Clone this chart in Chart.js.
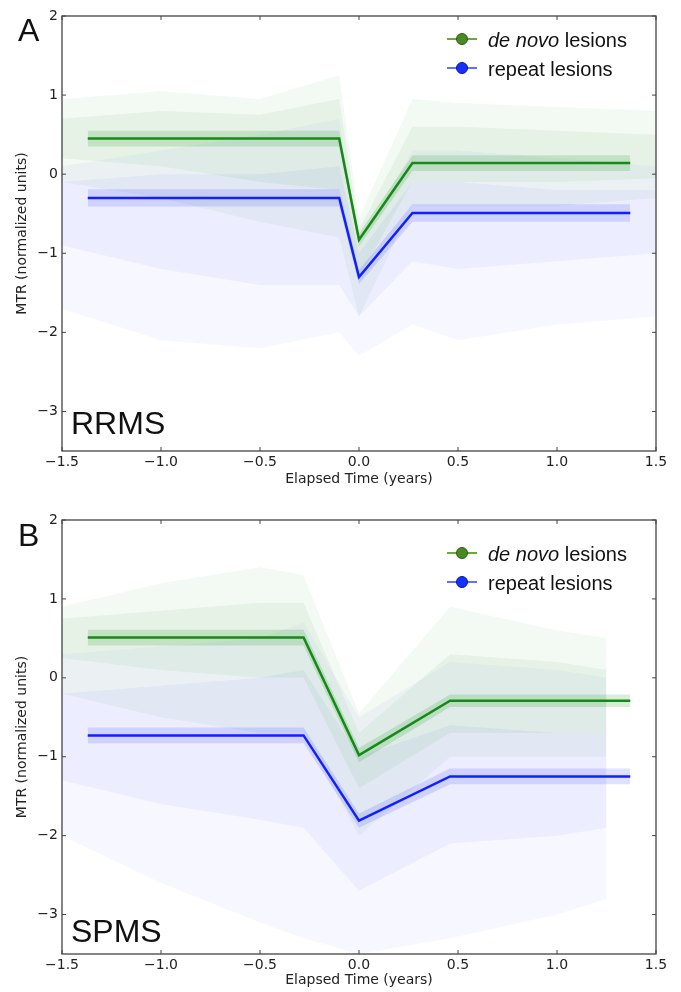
<!DOCTYPE html>
<html>
<head>
<meta charset="utf-8">
<script src="https://cdn.jsdelivr.net/npm/chart.js@4/dist/chart.umd.min.js"></script>
<style>
  body { margin: 0; background: #fff; width: 681px; height: 992px; position: relative; overflow: hidden; }
  .panel { position: absolute; left: 0; width: 681px; height: 496px; }
  .txt { position: absolute; font-family: "Liberation Sans", Arial, sans-serif; color: #111; line-height: 1; white-space: nowrap; }
  .big { font-size: 32px; }
  .leg { font-size: 20px; }
  .mline { position: absolute; height: 1.5px; width: 30px; }
  .mdot { position: absolute; width: 10px; height: 10px; border-radius: 50%; }
</style>
</head>
<body>
<div class="panel" style="top:0"><canvas id="chartA" width="681" height="496"></canvas></div>
<div class="panel" style="top:496px"><canvas id="chartB" width="681" height="496"></canvas></div>

<div class="txt big" style="left:18px;top:14px">A</div>
<div class="txt big" style="left:71px;top:407px">RRMS</div>
<div class="txt big" style="left:18px;top:519px">B</div>
<div class="txt big" style="left:71px;top:915px">SPMS</div>

<!-- legend A -->
<div class="mline" style="left:447px;top:38px;background:#6aaa3a"></div>
<div class="mdot" style="left:456px;top:33px;background:#4a8a22;border:1px solid #2e5c12"></div>
<div class="txt leg" style="left:488px;top:30px"><i>de novo</i> lesions</div>
<div class="mline" style="left:447px;top:67px;background:#6070ff"></div>
<div class="mdot" style="left:456px;top:62px;background:#1530ff;border:1px solid #0a14a0"></div>
<div class="txt leg" style="left:488px;top:59px">repeat lesions</div>

<!-- legend B -->
<div class="mline" style="left:447px;top:552px;background:#6aaa3a"></div>
<div class="mdot" style="left:456px;top:547px;background:#4a8a22;border:1px solid #2e5c12"></div>
<div class="txt leg" style="left:488px;top:544px"><i>de novo</i> lesions</div>
<div class="mline" style="left:447px;top:581px;background:#6070ff"></div>
<div class="mdot" style="left:456px;top:576px;background:#1530ff;border:1px solid #0a14a0"></div>
<div class="txt leg" style="left:488px;top:573px">repeat lesions</div>

<script>
// axis ticks
const xTicks = [-1.5, -1.0, -0.5, 0.0, 0.5, 1.0, 1.5];
const yTicks = [-3, -2, -1, 0, 1, 2];

// Panel A (RRMS) - fitted piecewise lines
const timeA = [-1.37, -0.1, 0.0, 0.27, 1.37];
const deNovoA = [0.45, 0.45, -0.83, 0.14, 0.14];
const repeatA = [-0.30, -0.30, -1.30, -0.49, -0.49];
const deNovoErrA = [0.10, 0.10, 0.08, 0.10, 0.10];
const repeatErrA = [0.11, 0.11, 0.09, 0.11, 0.11];

// Panel A - spread of the individual lesion traces (outer and dense core)
const hazeTimeA = [-1.5, -1.0, -0.5, -0.1, 0.0, 0.27, 0.5, 1.0, 1.5];
const deNovoHiA = [0.95, 1.05, 0.95, 1.25, -0.55, 0.95, 0.9, 0.85, 0.8];
const deNovoLoA = [-0.1, -0.3, -0.6, -0.8, -1.8, -0.4, -0.4, -0.4, -0.3];
const deNovoCoreHiA = [0.7, 0.8, 0.75, 0.95, -0.7, 0.6, 0.6, 0.55, 0.5];
const deNovoCoreLoA = [0.2, 0.1, -0.1, -0.2, -1.3, -0.1, -0.1, -0.1, -0.05];
const repeatHiA = [0.1, 0.3, 0.5, 0.7, -0.9, 0.3, 0.3, 0.2, 0.1];
const repeatLoA = [-1.7, -2.1, -2.2, -2.0, -2.3, -1.9, -2.1, -1.9, -1.8];
const repeatCoreHiA = [-0.1, 0.0, 0.0, 0.1, -1.0, -0.1, -0.1, -0.2, -0.2];
const repeatCoreLoA = [-0.9, -1.2, -1.4, -1.4, -1.8, -1.1, -1.2, -1.1, -1.0];

// Panel B (SPMS)
const timeB = [-1.37, -0.28, 0.0, 0.46, 1.37];
const deNovoB = [0.51, 0.51, -0.98, -0.29, -0.29];
const repeatB = [-0.73, -0.73, -1.81, -1.25, -1.25];
const deNovoErrB = [0.10, 0.10, 0.09, 0.08, 0.08];
const repeatErrB = [0.10, 0.10, 0.09, 0.10, 0.10];

const hazeTimeB = [-1.5, -1.0, -0.5, -0.28, 0.0, 0.46, 1.0, 1.25];
const deNovoHiB = [0.9, 1.2, 1.4, 1.3, -0.45, 0.9, 0.6, 0.5];
const deNovoLoB = [-0.2, -0.5, -0.7, -0.7, -2.0, -1.0, -1.0, -1.0];
const deNovoCoreHiB = [0.75, 0.85, 0.95, 0.95, -0.7, 0.3, 0.2, 0.1];
const deNovoCoreLoB = [0.25, 0.1, 0.0, 0.0, -1.4, -0.7, -0.7, -0.7];
const repeatHiB = [0.3, 0.4, 0.5, 0.7, -0.5, 0.2, 0.1, 0.0];
const repeatLoB = [-2.0, -2.6, -3.1, -3.3, -3.5, -3.3, -3.0, -2.8];
const repeatCoreHiB = [-0.2, -0.1, 0.0, 0.1, -1.0, -0.6, -0.7, -0.7];
const repeatCoreLoB = [-1.3, -1.6, -1.8, -1.9, -2.7, -2.1, -2.0, -1.9];

const GREEN = "#168a16";
const BLUE = "#1020ff";

function pts(xs, ys) {
    return xs.map((x, i) => ({ x: x, y: ys[i] }));
}
function shifted(xs, ys, err, sign) {
    return xs.map((x, i) => ({ x: x, y: ys[i] + sign * err[i] }));
}
function minusSign(v, digits) {
    return Number(v).toFixed(digits).replace("-", "\u2212");
}

// frame + inward ticks on all four sides (matplotlib classic look)
const frameTicks = {
    id: "frameTicks",
    afterDraw(chart) {
        const { ctx, chartArea: a, scales } = chart;
        ctx.save();
        ctx.strokeStyle = "#444";
        ctx.lineWidth = 1.3;
        ctx.strokeRect(a.left, a.top, a.right - a.left, a.bottom - a.top);
        ctx.lineWidth = 1;
        ctx.beginPath();
        xTicks.forEach(v => {
            const px = scales.x.getPixelForValue(v);
            ctx.moveTo(px, a.bottom); ctx.lineTo(px, a.bottom - 4);
            ctx.moveTo(px, a.top); ctx.lineTo(px, a.top + 4);
        });
        yTicks.forEach(v => {
            const py = scales.y.getPixelForValue(v);
            ctx.moveTo(a.left, py); ctx.lineTo(a.left + 4, py);
            ctx.moveTo(a.right, py); ctx.lineTo(a.right - 4, py);
        });
        ctx.stroke();
        ctx.restore();
    }
};

function makePanel(id, d) {
    const ctx = document.getElementById(id).getContext("2d");
    const flat = { pointRadius: 0, borderWidth: 0, tension: 0 };

    // pair of datasets filled between hi and lo
    function area(xs, hi, lo, color, order) {
        return [
            { ...flat, data: pts(xs, hi), fill: "+1", backgroundColor: color, order: order },
            { ...flat, data: pts(xs, lo), fill: false, order: order }
        ];
    }

    new Chart(ctx, {
        type: "line",
        data: {
            datasets: [
                { ...flat, data: pts(d.time, d.deNovo), borderColor: GREEN, borderWidth: 2.5, fill: false, order: 0 },
                { ...flat, data: pts(d.time, d.repeat), borderColor: BLUE, borderWidth: 2.5, fill: false, order: 0 },
                // confidence bands
                { ...flat, data: shifted(d.time, d.deNovo, d.deNovoErr, 1), fill: "+1", backgroundColor: "rgba(20,140,20,0.16)", order: 1 },
                { ...flat, data: shifted(d.time, d.deNovo, d.deNovoErr, -1), fill: false, order: 1 },
                { ...flat, data: shifted(d.time, d.repeat, d.repeatErr, 1), fill: "+1", backgroundColor: "rgba(30,40,255,0.14)", order: 1 },
                { ...flat, data: shifted(d.time, d.repeat, d.repeatErr, -1), fill: false, order: 1 },
                // trace clouds
                ...area(d.hazeTime, d.deNovoCoreHi, d.deNovoCoreLo, "rgba(20,140,20,0.06)", 2),
                ...area(d.hazeTime, d.deNovoHi, d.deNovoLo, "rgba(20,140,20,0.05)", 3),
                ...area(d.hazeTime, d.repeatCoreHi, d.repeatCoreLo, "rgba(40,50,255,0.05)", 4),
                ...area(d.hazeTime, d.repeatHi, d.repeatLo, "rgba(40,50,255,0.04)", 5)
            ]
        },
        options: {
            responsive: false,
            animation: false,
            layout: { padding: { top: d.padTop, right: 25, left: 0, bottom: 0 } },
            plugins: { legend: { display: false }, tooltip: { enabled: false } },
            scales: {
                x: {
                    type: "linear", min: -1.5, max: 1.5,
                    grid: { display: false, drawTicks: false },
                    border: { display: false },
                    afterBuildTicks: s => { s.ticks = xTicks.map(v => ({ value: v })); },
                    afterFit: s => { s.height = d.xAxisHeight; },
                    ticks: {
                        padding: 3, color: "#222",
                        font: { family: "DejaVu Sans", size: 14 },
                        callback: v => minusSign(v, 1)
                    },
                    title: {
                        display: true, text: "Elapsed Time (years)", color: "#222",
                        font: { family: "DejaVu Sans", size: 14 },
                        padding: { top: 0, bottom: d.xTitlePad }
                    }
                },
                y: {
                    type: "linear", min: -3.5, max: 2,
                    grid: { display: false, drawTicks: false },
                    border: { display: false },
                    afterBuildTicks: s => { s.ticks = yTicks.map(v => ({ value: v })); },
                    afterFit: s => { s.width = 62; },
                    ticks: {
                        padding: 4, color: "#222",
                        font: { family: "DejaVu Sans", size: 14 },
                        callback: v => minusSign(v, 0)
                    },
                    title: {
                        display: true, text: "MTR (normalized units)", color: "#222",
                        font: { family: "DejaVu Sans", size: 14 },
                        padding: { top: 14, bottom: 0 }
                    }
                }
            }
        },
        plugins: [frameTicks]
    });
}

makePanel("chartA", {
    time: timeA, deNovo: deNovoA, repeat: repeatA, deNovoErr: deNovoErrA, repeatErr: repeatErrA,
    hazeTime: hazeTimeA,
    deNovoHi: deNovoHiA, deNovoLo: deNovoLoA, deNovoCoreHi: deNovoCoreHiA, deNovoCoreLo: deNovoCoreLoA,
    repeatHi: repeatHiA, repeatLo: repeatLoA, repeatCoreHi: repeatCoreHiA, repeatCoreLo: repeatCoreLoA,
    padTop: 16, xAxisHeight: 45, xTitlePad: 8
});
makePanel("chartB", {
    time: timeB, deNovo: deNovoB, repeat: repeatB, deNovoErr: deNovoErrB, repeatErr: repeatErrB,
    hazeTime: hazeTimeB,
    deNovoHi: deNovoHiB, deNovoLo: deNovoLoB, deNovoCoreHi: deNovoCoreHiB, deNovoCoreLo: deNovoCoreLoB,
    repeatHi: repeatHiB, repeatLo: repeatLoB, repeatCoreHi: repeatCoreHiB, repeatCoreLo: repeatCoreLoB,
    padTop: 24, xAxisHeight: 38, xTitlePad: 3
});
</script>
</body>
</html>
